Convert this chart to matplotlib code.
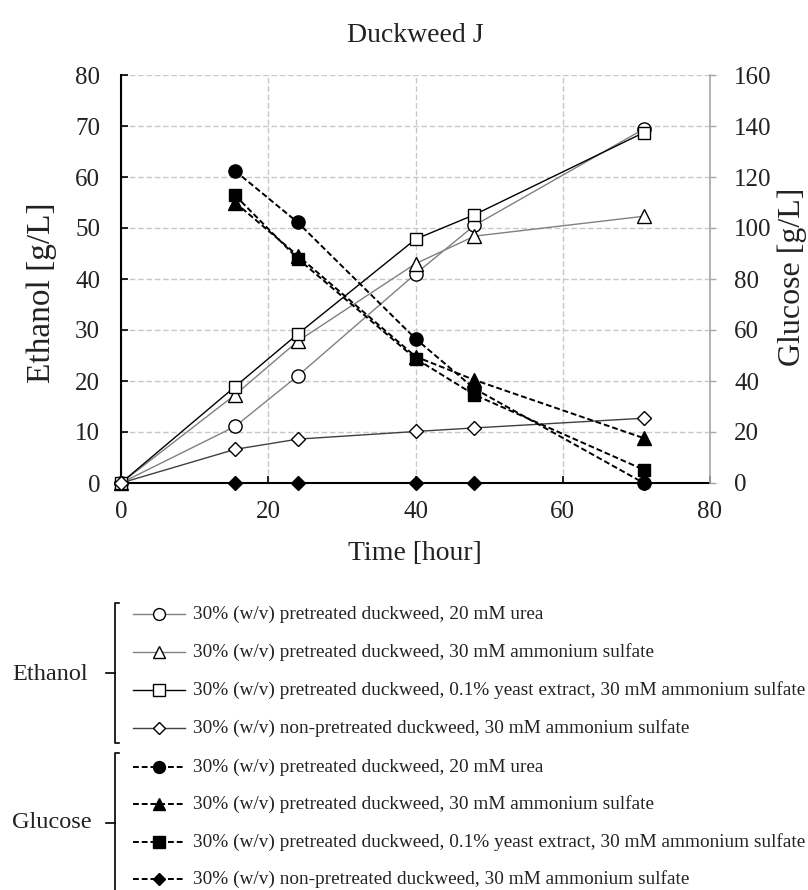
import matplotlib
matplotlib.use('Agg')
import matplotlib.pyplot as plt

plt.rcParams['font.family'] = ['Liberation Serif', 'DejaVu Serif']

# sampling times [hour]
time_eth = [0, 15.5, 24, 40, 48, 71]
time_glu = [15.5, 24, 40, 48, 71]

labels = ['30% (w/v) pretreated duckweed, 20 mM urea',
          '30% (w/v) pretreated duckweed, 30 mM ammonium sulfate',
          '30% (w/v) pretreated duckweed, 0.1% yeast extract, 30 mM ammonium sulfate',
          '30% (w/v) non-pretreated duckweed, 30 mM ammonium sulfate']

# ethanol [g/L] (left axis)
eth_urea = [0, 11.1, 21.0, 41.0, 50.5, 69.4]
eth_as = [0, 17.3, 27.8, 43.0, 48.4, 52.3]
eth_ye = [0, 18.9, 29.2, 47.8, 52.6, 68.7]
eth_np = [0, 6.6, 8.6, 10.1, 10.8, 12.7]

# glucose [g/L] (right axis)
glu_urea = [122.4, 102.2, 56.6, 37.0, 0]
glu_as = [110.0, 89.2, 49.6, 40.4, 17.6]
glu_ye = [112.8, 88.0, 48.8, 34.6, 5.2]
glu_np = [0, 0, 0, 0, 0]

ethanol = [eth_urea, eth_as, eth_ye, eth_np]
glucose = [glu_urea, glu_as, glu_ye, glu_np]

markers = ['o', '^', 's', 'D']
msizes = [9.5, 9.5, 9, 7]
eth_colors = ['#808080', '#808080', '#000000', '#404040']

def eth_style(i):
    return dict(color=eth_colors[i], lw=1.0, marker=markers[i], ms=msizes[i],
                mfc='white', mec='black', mew=1.0)

def glu_style(i):
    return dict(color='black', lw=1.4, ls=(0, (3, 1.5)), marker=markers[i],
                ms=msizes[i], mfc='black', mec='black', mew=1.0)

W, H = 808, 890
fig = plt.figure(figsize=(W / 100, H / 100), dpi=100)
ax = fig.add_axes([121 / W, 1 - 483 / H, (710 - 121) / W, (483 - 75) / H])
ax2 = ax.twinx()

for i in range(4):
    ax.plot(time_eth, ethanol[i], clip_on=False, zorder=3, **eth_style(i))
for i in range(4):
    ax2.plot(time_glu, glucose[i], clip_on=False, zorder=3, **glu_style(i))

ax.set_xlim(0, 80)
ax.set_ylim(0, 80)
ax2.set_ylim(0, 160)
ax.set_xticks(range(0, 81, 20))
ax.set_yticks(range(0, 81, 10))
ax2.set_yticks(range(0, 161, 20))

ax.grid(True, color='#c8c8c8', ls=(0, (4, 2)), lw=1.0)
ax.set_axisbelow(True)

for s in ['top', 'right']:
    ax.spines[s].set_visible(False)
for s in ['top', 'left', 'bottom']:
    ax2.spines[s].set_visible(False)
ax.spines['left'].set_linewidth(1.5)
ax.spines['bottom'].set_linewidth(1.5)
ax2.spines['right'].set_color('#a6a6a6')
ax2.spines['right'].set_linewidth(1.2)

ax.tick_params(axis='y', direction='in', length=5, width=1.2, labelsize=18, pad=15,
               colors='black', labelcolor='#222222')
ax.tick_params(axis='x', direction='in', length=5, width=1.2, labelsize=18, pad=13,
               colors='black', labelcolor='#222222')
ax2.tick_params(axis='y', direction='out', length=4.3, width=1.0, labelsize=18, pad=13,
                colors='#a6a6a6', labelcolor='#222222')

fig.text(415 / W, 1 - 36 / H, 'Duckweed J', ha='center', va='center', size=20, color='#222222')
fig.text(415 / W, 1 - 554 / H, 'Time [hour]', ha='center', va='center', size=20, color='#222222')
fig.text(42 / W, 1 - 293 / H, 'Ethanol [g/L]', ha='center', va='center', rotation=90,
         size=24, color='#222222')
fig.text(792 / W, 1 - 277 / H, 'Glucose [g/L]', ha='center', va='center', rotation=90,
         size=23, color='#222222')

# legend drawn in pixel coordinates
lg = fig.add_axes([0, 0, 1, 1])
lg.set_xlim(0, W)
lg.set_ylim(H, 0)
lg.axis('off')

rows = [614, 652, 690, 728, 767, 804, 842, 879]
for i in range(4):
    y = rows[i]
    st = eth_style(i)
    lg.plot([133, 185], [y, y], color=st['color'], lw=st['lw'])
    lg.plot([159], [y], ls='none', marker=st['marker'], ms=st['ms'] * 0.9,
            mfc='white', mec='black', mew=1.0)
    lg.text(193, y, labels[i], va='center', ha='left', size=13.9, color='#222222')
for i in range(4):
    y = rows[4 + i]
    st = glu_style(i)
    lg.plot([133, 185], [y, y], color='black', lw=st['lw'], ls=st['ls'])
    lg.plot([159], [y], ls='none', marker=st['marker'], ms=st['ms'] * 0.9,
            mfc='black', mec='black', mew=1.0)
    lg.text(193, y, labels[i], va='center', ha='left', size=13.9, color='#222222')

# brackets
bk = dict(color='black', lw=1.2)
lg.plot([119, 115, 115, 119], [603, 603, 743, 743], **bk)
lg.plot([106, 115], [673, 673], **bk)
lg.plot([119, 115, 115], [753, 753, 895], **bk)
lg.plot([106, 115], [823, 823], **bk)
lg.text(12, 675, 'Ethanol', va='center', ha='left', size=17.5, color='#222222')
lg.text(12, 823, 'Glucose', va='center', ha='left', size=17.5, color='#222222')

fig.savefig('out.png', dpi=100)
